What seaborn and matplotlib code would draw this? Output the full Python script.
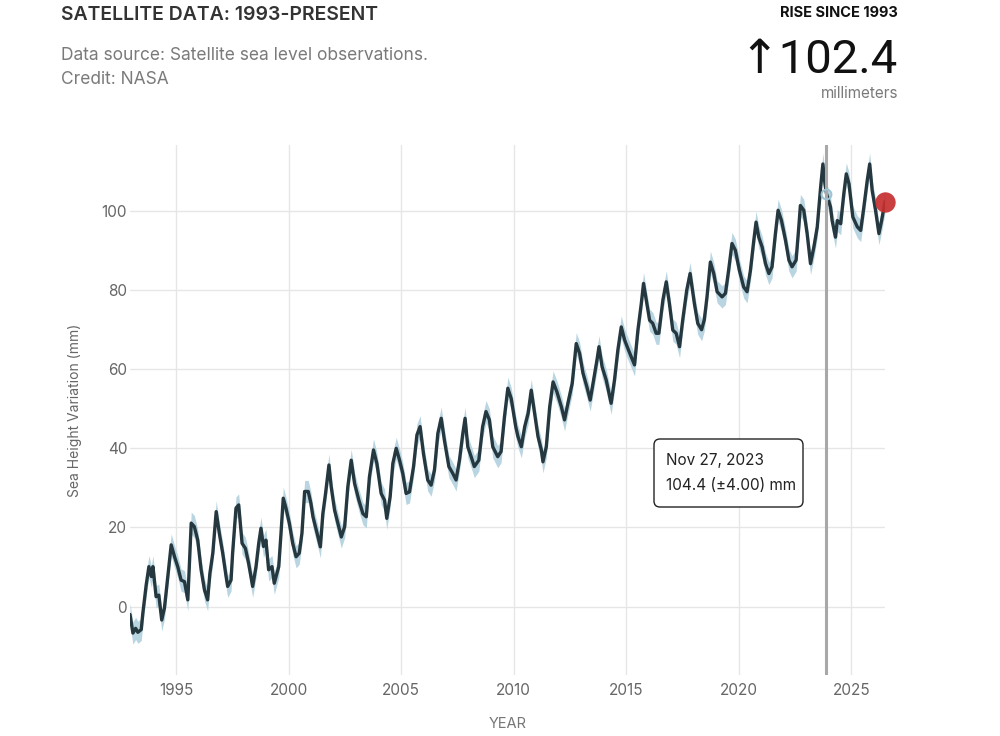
import numpy as np
import pandas as pd
import matplotlib.pyplot as plt
import seaborn as sns
from matplotlib.patches import FancyBboxPatch

# Satellite sea level readings (year, mm)
years = [
    1992.95, 1993.08, 1993.2, 1993.3, 1993.45, 1993.52, 1993.67, 1993.79, 1993.9, 1993.97,
    1994.11, 1994.23, 1994.36, 1994.48, 1994.63, 1994.78, 1994.93, 1995.07, 1995.22, 1995.37,
    1995.52, 1995.67, 1995.81, 1995.96, 1996.11, 1996.26, 1996.4, 1996.5, 1996.63, 1996.78,
    1996.92, 1997.07, 1997.22, 1997.29, 1997.44, 1997.51, 1997.66, 1997.78, 1997.93, 1998.08,
    1998.22, 1998.4, 1998.55, 1998.67, 1998.77, 1998.88, 1998.99, 1999.11, 1999.26, 1999.36,
    1999.56, 1999.66, 1999.76, 1999.88, 2000.03, 2000.18, 2000.33, 2000.47, 2000.59, 2000.71,
    2000.87, 2000.99, 2001.08, 2001.23, 2001.41, 2001.52, 2001.64, 2001.79, 2001.89, 2002.04,
    2002.19, 2002.34, 2002.49, 2002.63, 2002.78, 2002.93, 2003.12, 2003.3, 2003.45, 2003.59,
    2003.77, 2003.92, 2004.11, 2004.26, 2004.36, 2004.51, 2004.63, 2004.78, 2004.93, 2005.07,
    2005.22, 2005.37, 2005.55, 2005.7, 2005.84, 2005.99, 2006.18, 2006.33, 2006.48, 2006.63,
    2006.78, 2006.92, 2007.12, 2007.29, 2007.44, 2007.59, 2007.74, 2007.84, 2007.96, 2008.11,
    2008.25, 2008.45, 2008.62, 2008.77, 2008.92, 2009.07, 2009.29, 2009.44, 2009.59, 2009.74,
    2009.89, 2010.09, 2010.19, 2010.34, 2010.49, 2010.64, 2010.78, 2010.93, 2011.08, 2011.23,
    2011.3, 2011.45, 2011.6, 2011.75, 2011.92, 2012.12, 2012.26, 2012.41, 2012.6, 2012.78,
    2012.93, 2013.08, 2013.25, 2013.4, 2013.55, 2013.7, 2013.79, 2013.93, 2014.11, 2014.33,
    2014.48, 2014.63, 2014.78, 2014.93, 2015.07, 2015.22, 2015.37, 2015.52, 2015.67, 2015.77,
    2015.89, 2016.04, 2016.18, 2016.33, 2016.45, 2016.63, 2016.78, 2016.92, 2017.07, 2017.22,
    2017.37, 2017.51, 2017.69, 2017.84, 2018.03, 2018.18, 2018.35, 2018.47, 2018.59, 2018.74,
    2018.89, 2019.04, 2019.26, 2019.41, 2019.55, 2019.7, 2019.85, 2020.03, 2020.22, 2020.37,
    2020.52, 2020.67, 2020.77, 2020.89, 2021.04, 2021.19, 2021.34, 2021.48, 2021.63, 2021.75,
    2021.9, 2022.08, 2022.23, 2022.37, 2022.55, 2022.67, 2022.74, 2022.89, 2023.04, 2023.19,
    2023.34, 2023.49, 2023.64, 2023.74, 2023.83, 2023.9, 2024.08, 2024.15, 2024.3, 2024.38,
    2024.53, 2024.67, 2024.78, 2024.9, 2025.07, 2025.27, 2025.42, 2025.56, 2025.71, 2025.82,
    2025.93, 2026.08, 2026.23, 2026.35, 2026.5,
]
sea_level_mm = [
    -2.0, -6.7, -5.5, -6.5, -5.8, -1.7, 5.5, 10.1, 7.6, 10.1,
    2.5, 2.9, -3.4, -0.4, 7.6, 15.6, 12.6, 10.1, 6.7, 6.3,
    1.7, 21.1, 20.2, 16.8, 9.3, 4.2, 1.7, 8.4, 13.5, 24.0,
    18.5, 13.5, 7.6, 5.1, 6.7, 13.5, 24.9, 25.7, 16.0, 14.7,
    11.0, 5.1, 10.1, 16.0, 19.8, 15.2, 16.8, 9.3, 10.1, 5.9,
    10.1, 18.5, 27.4, 24.9, 21.1, 16.0, 12.6, 13.5, 18.5, 29.1,
    29.1, 26.1, 22.7, 19.3, 15.1, 23.5, 28.6, 35.8, 30.3, 24.4,
    21.0, 17.6, 20.2, 30.3, 37.0, 31.1, 26.9, 23.5, 22.7, 32.8,
    39.6, 36.2, 28.6, 26.9, 22.3, 27.8, 36.2, 40.0, 37.0, 33.7,
    28.6, 29.0, 35.4, 43.4, 45.5, 38.7, 32.0, 30.7, 34.5, 43.8,
    47.6, 42.1, 35.4, 33.7, 32.0, 37.0, 43.8, 47.6, 40.4, 37.9,
    35.4, 37.0, 45.5, 49.3, 47.2, 40.4, 37.9, 39.2, 48.0, 55.2,
    52.6, 45.5, 43.0, 40.4, 45.5, 48.8, 54.7, 48.8, 43.0, 39.6,
    36.6, 40.4, 50.5, 56.8, 54.3, 50.5, 47.2, 51.4, 56.4, 66.5,
    64.0, 59.0, 55.6, 52.2, 57.3, 62.3, 65.7, 60.6, 57.3, 51.4,
    57.3, 64.9, 70.7, 67.4, 65.3, 63.2, 61.1, 69.9, 76.6, 81.7,
    77.5, 72.4, 71.6, 69.1, 69.1, 77.5, 82.1, 76.6, 69.9, 69.1,
    65.7, 72.4, 80.0, 84.2, 76.6, 71.6, 70.0, 72.5, 78.3, 87.1,
    84.2, 79.6, 78.3, 79.2, 85.0, 91.8, 90.1, 85.0, 80.8, 79.6,
    85.0, 92.6, 97.2, 93.4, 90.9, 86.7, 84.2, 85.9, 94.3, 100.2,
    97.6, 92.6, 87.6, 85.9, 87.6, 96.0, 101.4, 100.2, 94.3, 86.7,
    90.9, 96.0, 106.1, 111.9, 106.9, 104.4, 101.0, 97.6, 93.4, 97.6,
    96.8, 104.4, 109.4, 106.9, 98.5, 96.0, 95.1, 101.0, 107.7, 111.9,
    105.2, 100.2, 94.3, 97.6, 102.4,
]
band_mm = 2.8  # half-width of the light uncertainty ribbon

x_ticks = [1995, 2000, 2005, 2010, 2015, 2020, 2025]
y_ticks = [0, 20, 40, 60, 80, 100]

hover_year = 2023.9
hover_label = "Nov 27, 2023"
hover_value = "104.4 (\u00b14.00) mm"
rise_text = "\u2191102.4"

LINE = "#25383f"
BAND = "#b9d5e1"
GRID = "#e6e6e6"
GREY = "#7a7a7a"

sns.set_theme(style="white")
plt.rcParams['font.family'] = ['Inter', 'DejaVu Sans']


def px(x, y):
    """Pixel position on the 1000x736 canvas -> figure fraction."""
    return x / 1000, 1 - y / 736


def plot_sea_level(output_path):
    df = pd.DataFrame({'year': years, 'mm': sea_level_mm})

    fig = plt.figure(figsize=(10, 7.36), dpi=100)
    ax = fig.add_axes([0.13, 1 - 675 / 736, 0.755, 530 / 736])

    ax.fill_between(df['year'], df['mm'] - band_mm, df['mm'] + band_mm,
                    color=BAND, lw=0, zorder=2)
    sns.lineplot(data=df, x='year', y='mm', color=LINE, lw=2.4, ax=ax, zorder=3)

    # hover marker
    ax.axvline(hover_year, color="#a8a8a8", lw=2.2, zorder=4)
    hv = df.loc[df['year'] == hover_year, 'mm'].iloc[0]
    ax.plot([hover_year], [hv], marker='o', ms=7, mfc='none', mec="#9ec3d4", mew=1.5, zorder=5)

    # latest value
    ax.scatter(df['year'].iloc[-1:], df['mm'].iloc[-1:], s=215, color="#c62f2f",
               alpha=0.92, lw=0, zorder=6, clip_on=False)

    ax.set_xlim(df['year'].min(), df['year'].max())
    ax.set_ylim(-17.3, 116.7)
    ax.set_xticks(x_ticks)
    ax.set_yticks(y_ticks)
    ax.grid(True, color=GRID, lw=1)
    for s in ax.spines.values():
        s.set_visible(False)
    ax.tick_params(axis='both', length=0, labelsize=11, labelcolor="#666666")
    ax.tick_params(axis='y', pad=2)
    ax.tick_params(axis='x', pad=6)
    ax.set_xlabel('')
    ax.set_ylabel('')

    ax.text(-0.073, 0.5, "Sea Height Variation (mm)", transform=ax.transAxes, rotation=90,
            ha='center', va='center', fontsize=10, color="#666666")
    fig.text(*px(508, 724), "YEAR", ha='center', va='center', fontsize=10.5, color="#777777")

    # header
    fig.text(*px(61, 15), "SATELLITE DATA: 1993-PRESENT", ha='left', va='center',
             fontsize=14, weight='semibold', color="#333333")
    fig.text(*px(61, 55), "Data source: Satellite sea level observations.", ha='left',
             va='center', fontsize=12.5, color=GREY)
    fig.text(*px(61, 80), "Credit: NASA", ha='left', va='center', fontsize=12.5, color=GREY)

    fig.text(*px(898, 13), "RISE SINCE 1993", ha='right', va='center', fontsize=10.5,
             weight='bold', color="#111111")
    fig.text(*px(898, 60), rise_text, ha='right', va='center', fontsize=34,
             family=['Roboto', 'DejaVu Sans'], color="#111111")
    fig.text(*px(898, 94), "millimeters", ha='right', va='center', fontsize=11, color=GREY)

    # tooltip
    box = FancyBboxPatch((654, 736 - 507), 149, 68, boxstyle="round,pad=0,rounding_size=6",
                         transform=None, facecolor='white', edgecolor='#222222', lw=1, zorder=10)
    fig.add_artist(box)
    fig.text(*px(666, 461), hover_label, ha='left', va='center', fontsize=11,
             color="#222222", zorder=11)
    fig.text(*px(666, 486), hover_value, ha='left', va='center', fontsize=11,
             color="#222222", zorder=11)

    fig.savefig(output_path, dpi=100)
    print(f"Saved chart to {output_path}")


if __name__ == "__main__":
    plot_sea_level("out.png")
